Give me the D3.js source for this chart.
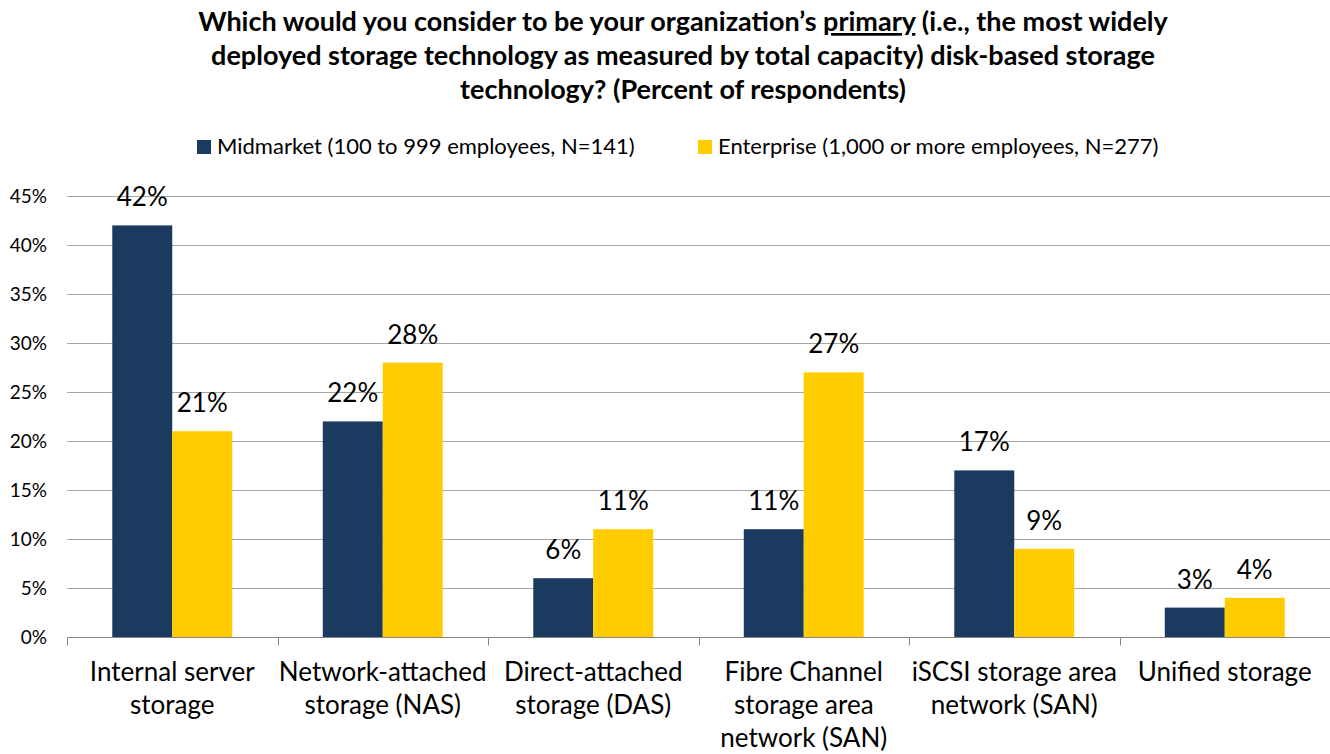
<!DOCTYPE html>
<html>
<head>
<meta charset="utf-8">
<script src="https://cdn.jsdelivr.net/npm/d3@7"></script>
<style>
  body { margin: 0; background: #fff; }
  svg { display: block; font-family: Lato, "Open Sans", sans-serif; }
</style>
</head>
<body>
<div id="chart"></div>
<script>
// data
const categories = [
  ["Internal server", "storage"],
  ["Network-attached", "storage (NAS)"],
  ["Direct-attached", "storage (DAS)"],
  ["Fibre Channel", "storage area", "network (SAN)"],
  ["iSCSI storage area", "network (SAN)"],
  ["Unified storage"]
];
const seriesNames = ["Midmarket (100 to 999 employees, N=141)", "Enterprise (1,000 or more employees, N=277)"];
const midmarket = [42, 22, 6, 11, 17, 3];
const enterprise = [21, 28, 11, 27, 9, 4];
const yTicks = [0, 5, 10, 15, 20, 25, 30, 35, 40, 45];
const colors = ["#1b3a60", "#ffcc00"];

const width = 1330, height = 754;
const margin = {top: 196, right: 0, bottom: 117, left: 67};

const svg = d3.select("#chart").append("svg")
  .attr("width", width)
  .attr("height", height)
  .attr("viewBox", `0 0 ${width} ${height}`);

// title
const title = svg.append("text")
  .attr("text-anchor", "middle")
  .attr("font-weight", "bold")
  .attr("font-size", 27)
  .attr("fill", "#000");
const l1 = title.append("tspan").attr("x", 683).attr("y", 31);
l1.append("tspan").text("Which would you consider to be your organization\u2019s ");
l1.append("tspan").attr("text-decoration", "underline").text("primary");
l1.append("tspan").text(" (i.e., the most widely");
title.append("tspan").attr("x", 683).attr("y", 65)
  .text("deployed storage technology as measured by total capacity) disk-based storage");
title.append("tspan").attr("x", 683).attr("y", 99)
  .text("technology? (Percent of respondents)");

// legend
const legendX = [197, 698];
const legend = svg.append("g").selectAll("g").data(seriesNames).join("g")
  .attr("transform", (d, i) => `translate(${legendX[i]},140)`);
legend.append("rect").attr("width", 14).attr("height", 14).attr("fill", (d, i) => colors[i]);
legend.append("text").attr("x", 20).attr("y", 14).attr("font-size", 22).attr("fill", "#000").text(d => d);

// scales
const y = d3.scaleLinear().domain([0, 45]).range([height - margin.bottom, margin.top]);
const x0 = d3.scaleBand().domain(d3.range(categories.length)).range([margin.left, width - margin.right]);
const x1 = d3.scaleBand().domain([0, 1]).range([0, x0.bandwidth()]).paddingInner(0).paddingOuter(0.755);

// gridlines
svg.append("g").selectAll("line").data(yTicks.filter(t => t > 0)).join("line")
  .attr("x1", margin.left).attr("x2", width)
  .attr("y1", d => Math.round(y(d)) + 0.5).attr("y2", d => Math.round(y(d)) + 0.5)
  .attr("stroke", "#a6a6a6").attr("stroke-width", 1);

// y labels
svg.append("g").selectAll("text").data(yTicks).join("text")
  .attr("x", 47).attr("y", d => y(d) + 7)
  .attr("text-anchor", "end").attr("font-size", 19).attr("fill", "#000")
  .text(d => d + "%");

// bars
const groups = svg.append("g").selectAll("g").data(categories).join("g")
  .attr("transform", (d, i) => `translate(${x0(i)},0)`);
const rows = (d, i) => [midmarket[i], enterprise[i]];
groups.selectAll("rect").data(rows).join("rect")
  .attr("x", (d, j) => x1(j))
  .attr("width", x1.bandwidth())
  .attr("y", d => y(d))
  .attr("height", d => y(0) - y(d))
  .attr("fill", (d, j) => colors[j]);
groups.selectAll("text.val").data(rows).join("text")
  .attr("class", "val")
  .attr("x", (d, j) => x1(j) + x1.bandwidth() / 2)
  .attr("y", d => y(d) - 19)
  .attr("text-anchor", "middle").attr("font-size", 26).attr("fill", "#000")
  .text(d => d + "%");

// x axis
const axisY = Math.round(y(0)) + 0.5;
svg.append("line").attr("x1", margin.left).attr("x2", width)
  .attr("y1", axisY).attr("y2", axisY).attr("stroke", "#868686");
svg.append("g").selectAll("line").data(d3.range(categories.length + 1)).join("line")
  .attr("x1", i => Math.round(margin.left + i * x0.step()) + 0.5)
  .attr("x2", i => Math.round(margin.left + i * x0.step()) + 0.5)
  .attr("y1", axisY).attr("y2", axisY + 8)
  .attr("stroke", "#868686");

// category labels
const catText = svg.append("g").selectAll("text").data(categories).join("text")
  .attr("text-anchor", "middle").attr("font-size", 26).attr("fill", "#000");
catText.selectAll("tspan").data((d, i) => d.map(s => ({s, i}))).join("tspan")
  .attr("x", d => x0(d.i) + x0.bandwidth() / 2)
  .attr("y", (d, k) => 681 + k * 33)
  .text(d => d.s);
</script>
</body>
</html>
